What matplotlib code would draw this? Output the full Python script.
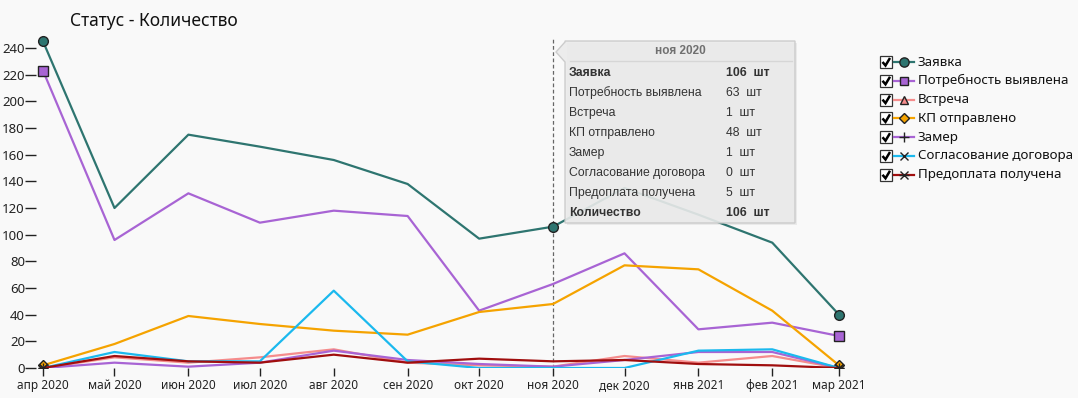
import matplotlib
matplotlib.use("Agg")
import matplotlib.pyplot as plt
from matplotlib.patches import Rectangle, Polygon
import pandas as pd

plt.rcParams['font.family'] = ['Noto Sans', 'DejaVu Sans']

# ---------------- data ----------------
months = pd.date_range('2020-04-01', periods=12, freq='MS')
month_labels = ['апр 2020', 'май 2020', 'июн 2020', 'июл 2020', 'авг 2020', 'сен 2020',
                'окт 2020', 'ноя 2020', 'дек 2020', 'янв 2021', 'фев 2021', 'мар 2021']

series_names = ['Заявка', 'Потребность выявлена', 'Встреча', 'КП отправлено',
                'Замер', 'Согласование договора', 'Предоплата получена']

zayavka      = [245, 120, 175, 166, 156, 138, 97, 106, 135, 115, 94, 40]
potrebnost   = [223, 96, 131, 109, 118, 114, 43, 63, 86, 29, 34, 24]
vstrecha     = [0, 8, 4, 8, 14, 4, 2, 1, 9, 4, 9, 0]
kp           = [2, 18, 39, 33, 28, 25, 42, 48, 77, 74, 43, 2]
zamer        = [0, 4, 1, 4, 13, 6, 3, 1, 6, 12, 12, 0]
soglasovanie = [0, 12, 5, 5, 58, 5, 0, 0, 0, 13, 14, 0]
predoplata   = [0, 9, 5, 4, 10, 4, 7, 5, 6, 3, 2, 0]

yticks = [0, 20, 40, 60, 80, 100, 120, 140, 160, 180, 200, 220, 240]

tooltip_title = 'ноя 2020'
tooltip_idx = 7
tooltip_total_label = 'Количество'
tooltip_total = 106
unit = 'шт'

values = [zayavka, potrebnost, vstrecha, kp, zamer, soglasovanie, predoplata]
colors = ['#2E7570', '#A864D4', '#F58C8C', '#F5A300', '#A864D4', '#1BB9EE', '#A00E0E']
markers = ['o', 's', '^', 'D', '+', 'x', 'x']
msizes = [7, 6.5, 6, 5, 7, 6, 6]
mfaces = colors[:4] + ['k', 'k', 'k']

# ---------------- figure ----------------
W, H = 1078, 398
fig = plt.figure(figsize=(W / 100, H / 100), dpi=100, facecolor='#F9F9F9')

px_per_day = (839 - 43) / (months[-1] - months[0]).days
x0_px, x1_px = 36, 846
xlim_lo = months[0] - pd.Timedelta(days=(43 - x0_px) / px_per_day)
xlim_hi = months[-1] + pd.Timedelta(days=(x1_px - 839) / px_per_day)
y0_px = 368
py_per_unit = 320 / 240
ytop = 250
ax = fig.add_axes([x0_px / W, 1 - y0_px / H, (x1_px - x0_px) / W, ytop * py_per_unit / H])
ax.set_facecolor('#F9F9F9')
ax.set_xlim(xlim_lo, xlim_hi)
ax.set_ylim(0, ytop)
for s in ax.spines.values():
    s.set_visible(False)

ax.set_xticks(months)
ax.set_xticklabels(month_labels)
ax.set_yticks(yticks)
ax.tick_params(axis='x', direction='out', length=6, width=1, color='#222222',
               labelsize=8.5, labelcolor='#222222', pad=2)
ax.tick_params(axis='y', direction='out', length=8, width=1, color='#222222',
               labelsize=9.5, labelcolor='#222222', pad=0)

order = [6, 4, 2, 5, 3, 1, 0]
for i in order:
    mev = [0, len(months) - 1]
    if i == 0:
        mev = [0, tooltip_idx, len(months) - 1]
    ax.plot(months, values[i], color=colors[i], lw=1.6, marker=markers[i],
            markersize=msizes[i], markerfacecolor=mfaces[i], markeredgecolor='#222222',
            markeredgewidth=1.0, markevery=mev, zorder=3 + i * 0.1)
    if i == 6:
        ax.plot(months, values[i], ls='none', marker='_', markersize=7,
                markeredgecolor='#222222', markeredgewidth=1.0, markevery=mev,
                zorder=3 + i * 0.1)

# hover line
ax.axvline(months[tooltip_idx], color='#666666', lw=0.9, ls=(0, (3, 2)), zorder=2,
           ymax=(368 - 38) / (ytop * py_per_unit))

fig.text(70 / W, 1 - 21 / H, 'Статус - Количество', fontsize=12.5, color='#111111',
         va='center', ha='left')

# ---------------- overlay (legend + tooltip) ----------------
ov = fig.add_axes([0, 0, 1, 1], zorder=10)
ov.set_xlim(0, W)
ov.set_ylim(H, 0)
ov.axis('off')
ov.patch.set_alpha(0)

tfont = ['Liberation Sans', 'DejaVu Sans']
# tooltip
bx0, by0, bx1, by1 = 565, 41, 795, 223
ov.add_patch(Rectangle((bx0 + 2, by0 + 2), bx1 - bx0, by1 - by0, facecolor='#000000',
                       alpha=0.06, edgecolor='none'))
ov.add_patch(Polygon([[bx0, by0], [bx1, by0], [bx1, by1], [bx0, by1], [bx0, 62],
                      [556, 52], [bx0, 42]], closed=True, facecolor='#EBEBEB',
                     edgecolor='#C8C8C8', lw=1, alpha=0.9))
ov.text((bx0 + bx1) / 2, 51, tooltip_title, fontsize=8.5, fontweight='bold',
        color='#707070', ha='center', va='center', family=tfont)
ov.plot([570, 792], [61, 61], color='#D6D6D6', lw=1)
rows = [(n, v[tooltip_idx]) for n, v in zip(series_names, values)]
rows.append((tooltip_total_label, tooltip_total))
for k, (name, val) in enumerate(rows):
    yy = 73 + k * 20
    bold = k == 0 or k == len(rows) - 1
    ov.text(569, yy, name, fontsize=8.8, color='#333333', ha='left', va='center',
            fontweight='bold' if bold else 'normal', family=tfont)
    ov.text(726, yy, f'{val}  {unit}', fontsize=8.8, color='#333333', ha='left',
            va='center', fontweight='bold' if bold else 'normal', family=tfont)

# legend
for i, name in enumerate(series_names):
    yy = 62 + i * 18.8
    ov.add_patch(Rectangle((880, yy - 6), 12, 12, facecolor='white', edgecolor='#333333',
                           lw=0.9))
    ov.plot([882.5, 885.5, 890], [yy, yy + 3.5, yy - 4], color='black', lw=1.8,
            solid_capstyle='butt', solid_joinstyle='miter')
    ov.plot([894, 914], [yy, yy], color=colors[i], lw=1.6)
    ov.plot([904], [yy], marker=markers[i], markersize=msizes[i] * 0.95,
            markerfacecolor=mfaces[i], markeredgecolor='#222222', markeredgewidth=1.0,
            color=colors[i])
    if i == 6:
        ov.plot([904], [yy], marker='_', markersize=7, markeredgecolor='#222222',
                markeredgewidth=1.0)
    ov.text(918, yy, name, fontsize=9.6, color='#111111', ha='left', va='center')

fig.savefig('out.png', dpi=100, facecolor=fig.get_facecolor())
